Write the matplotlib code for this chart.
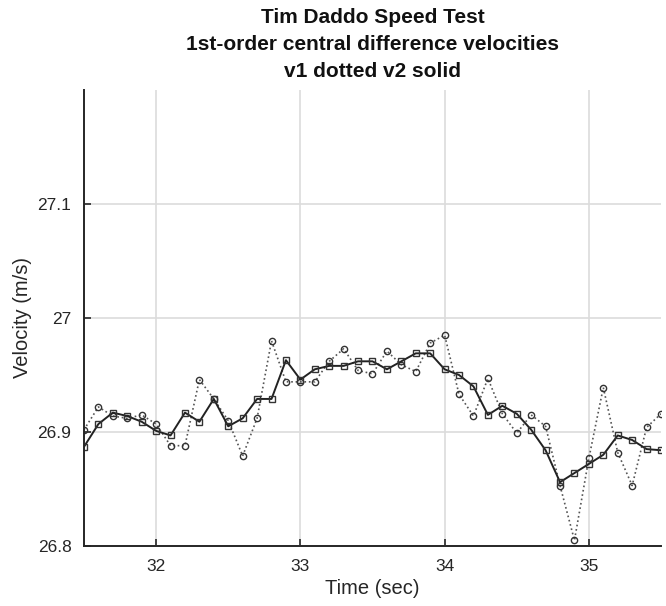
import matplotlib
matplotlib.use('Agg')
import matplotlib.pyplot as plt
import numpy as np

# time stamps, 0.1 s apart
time_sec = np.round(np.arange(31.5, 35.51, 0.1), 1)

# v1: dotted line with circles
v1 = [26.902, 26.922, 26.914, 26.912, 26.915, 26.907, 26.888, 26.888, 26.946, 26.929,
      26.910, 26.879, 26.912, 26.980, 26.944, 26.944, 26.944, 26.962, 26.973, 26.954,
      26.951, 26.971, 26.959, 26.953, 26.978, 26.985, 26.933, 26.914, 26.947, 26.916,
      26.899, 26.915, 26.905, 26.853, 26.805, 26.877, 26.939, 26.882, 26.853, 26.904,
      26.916]

# v2: solid line with squares
v2 = [26.887, 26.907, 26.917, 26.914, 26.909, 26.901, 26.897, 26.917, 26.909, 26.929,
      26.905, 26.912, 26.929, 26.929, 26.963, 26.946, 26.955, 26.958, 26.958, 26.962,
      26.962, 26.955, 26.962, 26.969, 26.969, 26.955, 26.950, 26.940, 26.915, 26.923,
      26.916, 26.902, 26.884, 26.856, 26.864, 26.872, 26.880, 26.897, 26.893, 26.885,
      26.884]

x_ticks = [32, 33, 34, 35]
y_ticks = [26.8, 26.9, 27.0, 27.1]
y_tick_labels = ['26.8', '26.9', '27', '27.1']

plt.rcParams['font.family'] = ['Liberation Sans', 'DejaVu Sans']
text_color = '#262626'

fig = plt.figure(figsize=(6.66, 6.06), dpi=100)
ax = fig.add_axes([0.1261, 0.099, 0.8664, 0.7525])

ax.plot(time_sec, v1, linestyle=':', color='#555555', linewidth=1.2,
        marker='o', markersize=4.5, markerfacecolor='none',
        markeredgecolor='#333333', markeredgewidth=1.0)
ax.plot(time_sec, v2, linestyle='-', color='#222222', linewidth=1.4,
        marker='s', markersize=4.5, markerfacecolor='none',
        markeredgecolor='#333333', markeredgewidth=1.0)

ax.set_xlim(31.5, 35.5)
ax.set_ylim(26.8, 27.2)
ax.set_xticks(x_ticks)
ax.set_yticks(y_ticks)
ax.set_yticklabels(y_tick_labels)

ax.grid(True, color='#dcdcdc', linewidth=1.2)
ax.set_axisbelow(True)

for side in ['top', 'right']:
    ax.spines[side].set_visible(False)
for side in ['left', 'bottom']:
    ax.spines[side].set_color(text_color)
    ax.spines[side].set_linewidth(1.4)

ax.tick_params(direction='in', length=5, width=1.2, colors=text_color,
               labelsize=12.5, pad=9)

ax.set_xlabel('Time (sec)', fontsize=14.5, color=text_color, labelpad=4)
ax.set_ylabel('Velocity (m/s)', fontsize=14.5, color=text_color, labelpad=4)
ax.set_title('Tim Daddo Speed Test\n1st-order central difference velocities\nv1 dotted v2 solid',
             fontsize=15, fontweight='bold', color='#111111', linespacing=1.55, pad=9)

fig.savefig('out.png', dpi=100)
